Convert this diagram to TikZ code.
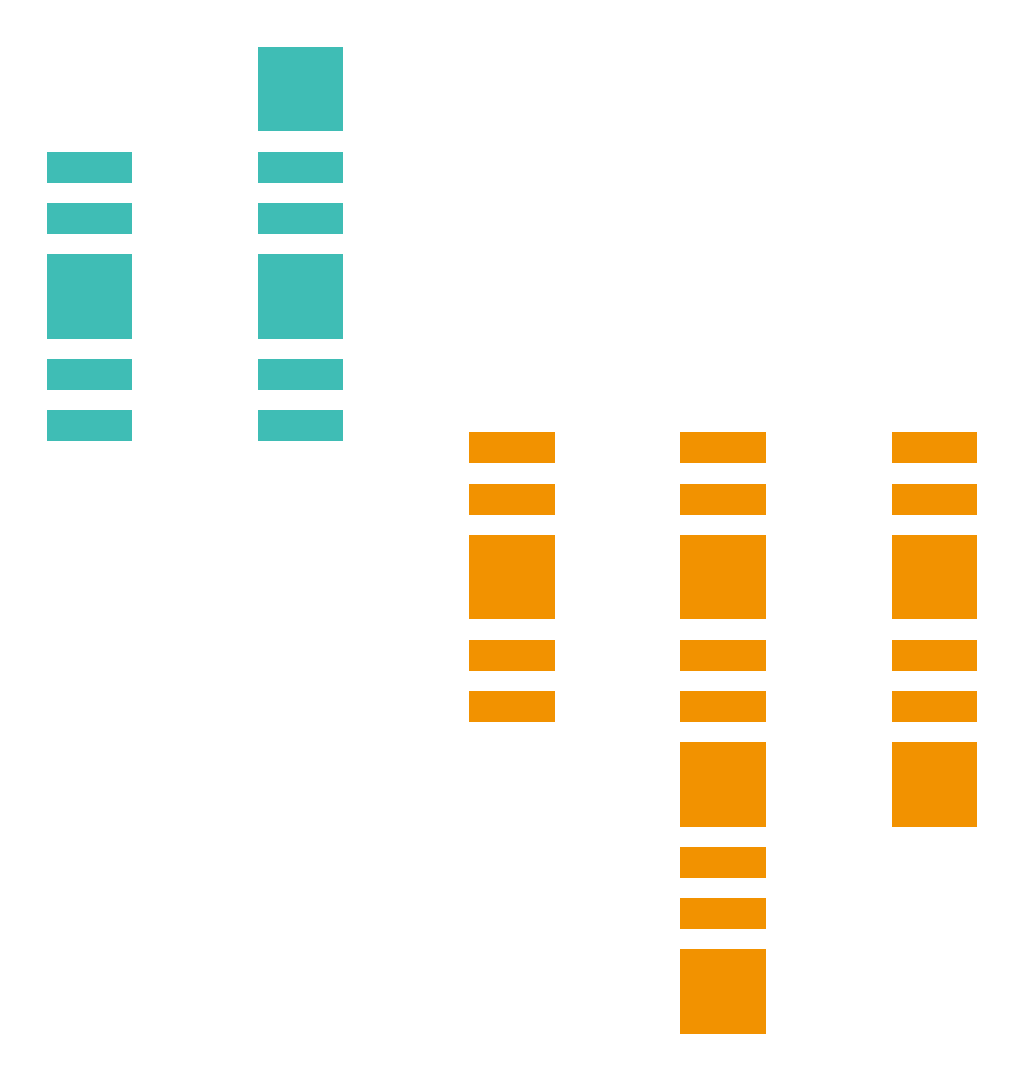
\documentclass[tikz,border=0pt]{standalone}
\definecolor{tealc}{RGB}{63,189,181}
\definecolor{orangec}{RGB}{242,146,0}
\begin{document}
\begin{tikzpicture}[x=1pt,y=-1pt]
\useasboundingbox (0,0) rectangle (1024,1081);
\tikzset{tblock/.style={fill=tealc,draw=none},oblock/.style={fill=orangec,draw=none}}
% column 1
\foreach \a/\b in {152/183,203/234,254/339,359/390,410/441}
  \fill[tblock] (47,\a) rectangle (132,\b);
% column 2
\foreach \a/\b in {47/131,152/183,203/234,254/339,359/390,410/441}
  \fill[tblock] (258,\a) rectangle (343,\b);
% column 3
\foreach \a/\b in {432/463,484/515,535/619,640/671,691/722}
  \fill[oblock] (469,\a) rectangle (555,\b);
% column 4
\foreach \a/\b in {432/463,484/515,535/619,640/671,691/722,742/827,847/878,898/929,949/1034}
  \fill[oblock] (680,\a) rectangle (766,\b);
% column 5
\foreach \a/\b in {432/463,484/515,535/619,640/671,691/722,742/827}
  \fill[oblock] (892,\a) rectangle (977,\b);
\end{tikzpicture}
\end{document}
